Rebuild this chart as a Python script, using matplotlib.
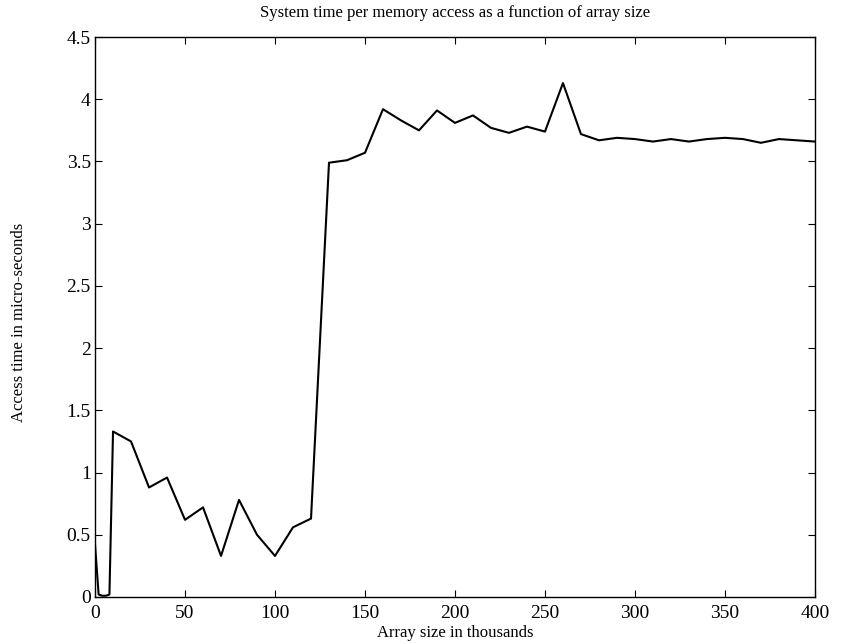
import matplotlib
matplotlib.use('Agg')
import matplotlib.pyplot as plt

plt.rcParams['font.family'] = ['Liberation Serif', 'DejaVu Serif']

# array size in thousands
sizes = [0, 2, 4, 6, 8, 10, 20, 30, 40, 50, 60, 70, 80, 90, 100, 110, 120,
         130, 140, 150, 160, 170, 180, 190, 200, 210, 220, 230, 240, 250, 260,
         270, 280, 290, 300, 310, 320, 330, 340, 350, 360, 370, 380, 390, 400]
# access time in micro-seconds
times = [0.42, 0.02, 0.01, 0.01, 0.02, 1.33, 1.25, 0.88, 0.96, 0.62, 0.72, 0.33, 0.78, 0.50, 0.33, 0.56, 0.63,
         3.49, 3.51, 3.57, 3.92, 3.83, 3.75, 3.91, 3.81, 3.87, 3.77, 3.73, 3.78, 3.74, 4.13,
         3.72, 3.67, 3.69, 3.68, 3.66, 3.68, 3.66, 3.68, 3.69, 3.68, 3.65, 3.68, 3.67, 3.66]

fig = plt.figure(figsize=(8.41, 6.44), dpi=100)
ax = fig.add_axes([0.113, 0.073, 0.856, 0.8695])
ax.plot(sizes, times, color='black', linewidth=1.5)

ax.set_xlim(0, 400)
ax.set_ylim(0, 4.5)
ax.set_xticks([0, 50, 100, 150, 200, 250, 300, 350, 400])
ax.set_yticks([0, 0.5, 1, 1.5, 2, 2.5, 3, 3.5, 4, 4.5])
ax.set_yticklabels(['0', '0.5', '1', '1.5', '2', '2.5', '3', '3.5', '4', '4.5'])
ax.tick_params(direction='in', top=True, right=True, length=5, labelsize=14, pad=3)
ax.tick_params(axis='x', pad=6)
for s in ax.spines.values():
    s.set_linewidth(1.0)

# labels placed by hand, the reference packs them close to the edges
fig.text(0.541, 0.980, 'System time per memory access as a function of array size',
         fontsize=12, ha='center', va='center')
fig.text(0.541, 0.017, 'Array size in thousands', fontsize=12, ha='center', va='center')
fig.text(0.022, 0.50, 'Access time in micro-seconds', fontsize=12, ha='center', va='center',
         rotation=90)

fig.savefig('out.png', dpi=100)
